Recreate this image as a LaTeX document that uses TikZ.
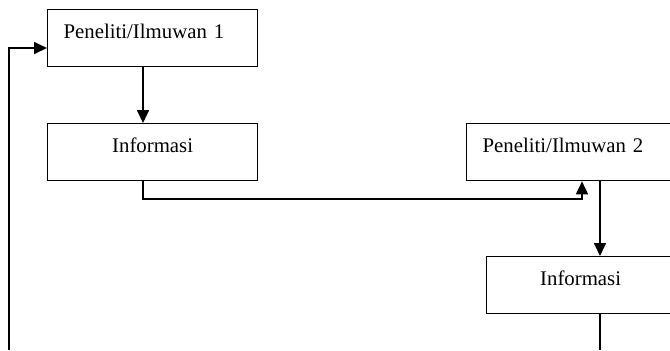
\documentclass[tikz,border=0pt]{standalone}
\usepackage{fontspec}
\setmainfont{Liberation Serif}
\usetikzlibrary{arrows.meta}
\begin{document}
\begin{tikzpicture}[x=0.5pt,y=-0.5pt,
  box/.style={draw,line width=0.65pt,rectangle,anchor=north west,
    inner sep=0pt,text height=14.5pt,text depth=14pt,
    font=\fontsize{10.4}{12}\selectfont},
  leftbox/.style={box,inner xsep=8pt,text width=#1,align=left},
  midbox/.style={box,text width=#1,align=center},
  link/.style={line width=0.85pt},
  arr/.style={link,-{Triangle[length=6.5pt,width=6pt]}}]
\useasboundingbox (0,0) rectangle (670,350);
\clip (0,0) rectangle (670,350);
% boxes
\node[leftbox=89pt] (p1) at (47,9) {Peneliti/Ilmuwan 1};
\node[midbox=105pt] (i1) at (47,123) {Informasi};
\node[leftbox=89pt] (p2) at (466,123) {Peneliti/Ilmuwan 2};
\node[midbox=94pt] (i2) at (486,256) {Informasi};
% loose ends at the bottom edge
\coordinate (inL) at (9,350);
\coordinate (outR) at (600,350);
% connectors
\draw[arr] (p1.south -| 143,0) -- (i1.north -| 143,0);
\draw[arr] (i1.south -| 143,0) |- (582,199) -- (p2.south -| 582,0);
\draw[arr] (p2.south -| 600,0) -- (i2.north -| 600,0);
\draw[link] (i2.south -| 600,0) -- (outR);
\draw[arr] (inL) |- (p1.west |- 0,48);
\end{tikzpicture}
\end{document}
